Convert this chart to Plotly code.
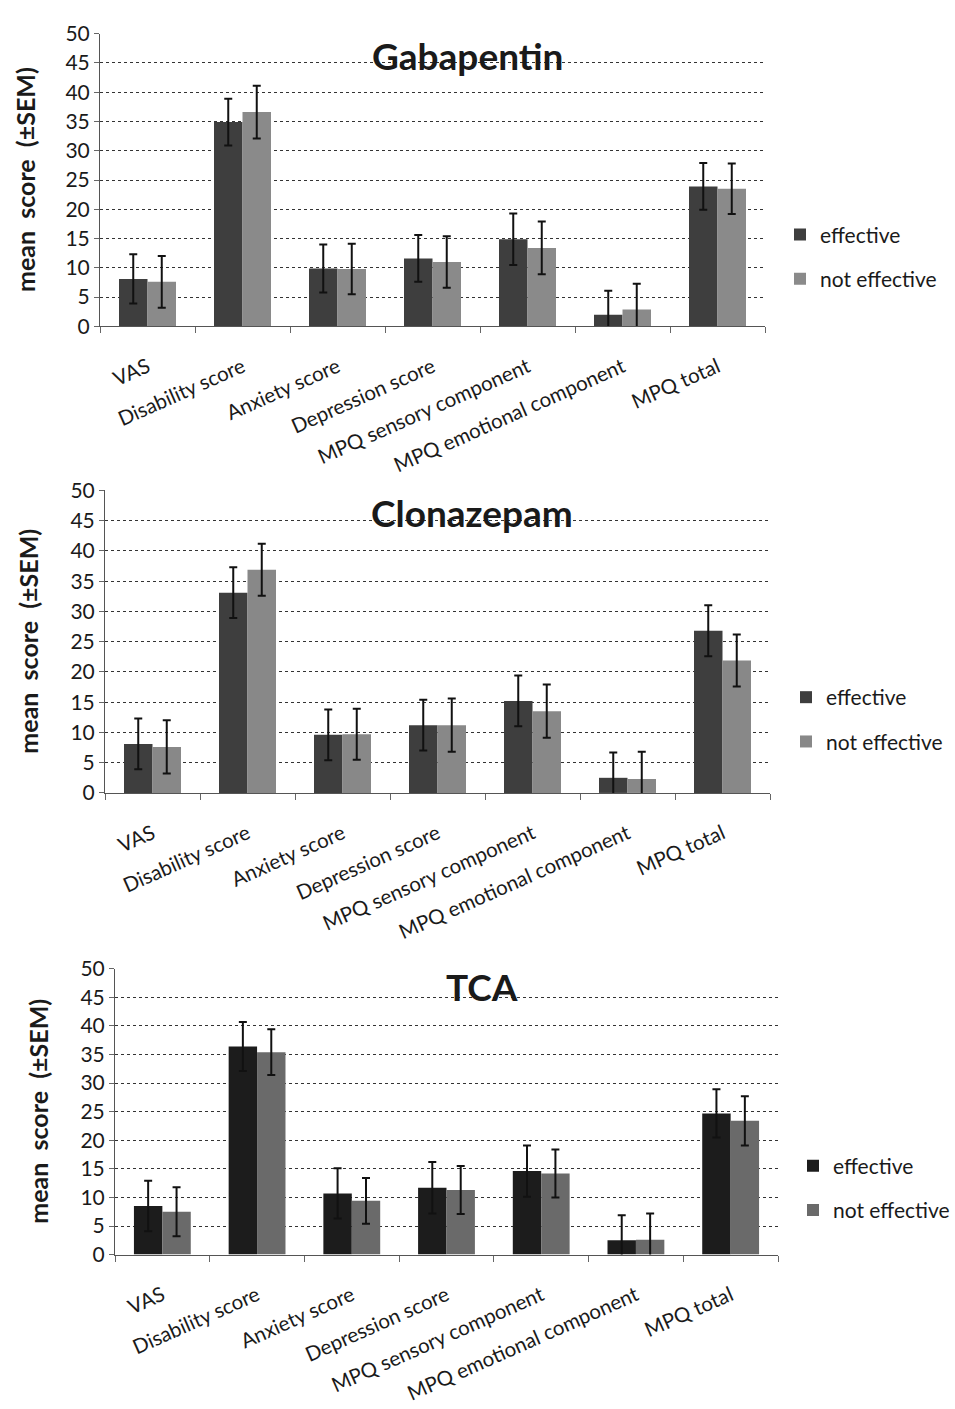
import plotly.graph_objects as go

categories = ["VAS", "Disability score", "Anxiety score", "Depression score",
              "MPQ sensory component", "MPQ emotional component", "MPQ total"]
series_names = ["effective", "not effective"]
panel_titles = ["Gabapentin", "Clonazepam", "TCA"]
y_ticks = [0, 5, 10, 15, 20, 25, 30, 35, 40, 45, 50]

gaba_eff = [8.1, 34.9, 9.9, 11.6, 14.9, 2.0, 23.9]
gaba_eff_sem = [4.2, 4.0, 4.1, 4.0, 4.4, 4.1, 4.0]
gaba_not = [7.6, 36.6, 9.8, 11.0, 13.4, 2.9, 23.5]
gaba_not_sem = [4.4, 4.5, 4.3, 4.4, 4.5, 4.4, 4.3]

clon_eff = [8.1, 33.1, 9.6, 11.2, 15.2, 2.5, 26.8]
clon_eff_sem = [4.2, 4.2, 4.2, 4.2, 4.2, 4.2, 4.2]
clon_not = [7.6, 36.9, 9.7, 11.2, 13.5, 2.3, 21.9]
clon_not_sem = [4.4, 4.3, 4.2, 4.4, 4.4, 4.5, 4.3]

tca_eff = [8.5, 36.4, 10.7, 11.7, 14.6, 2.5, 24.7]
tca_eff_sem = [4.4, 4.3, 4.4, 4.5, 4.5, 4.4, 4.2]
tca_not = [7.5, 35.4, 9.4, 11.3, 14.2, 2.6, 23.4]
tca_not_sem = [4.3, 4.0, 4.0, 4.2, 4.2, 4.6, 4.3]

W, H = 955, 1409
FONT = "Lato"

panels = [
    dict(eff=gaba_eff, eff_sem=gaba_eff_sem, ne=gaba_not, ne_sem=gaba_not_sem,
         x=(100, 765), y=(20, 318), colors=("#3e3e3e", "#8a8a8a"),
         title_xy=(467, 42), legend_xy=(780, 204), ytitle_x=25),
    dict(eff=clon_eff, eff_sem=clon_eff_sem, ne=clon_not, ne_sem=clon_not_sem,
         x=(105, 770), y=(485, 793), colors=("#3e3e3e", "#888888"),
         title_xy=(472, 508), legend_xy=(786, 675), ytitle_x=28),
    dict(eff=tca_eff, eff_sem=tca_eff_sem, ne=tca_not, ne_sem=tca_not_sem,
         x=(115, 778), y=(972, 1263), colors=("#1c1c1c", "#6a6a6a"),
         title_xy=(482, 990), legend_xy=(793, 1152), ytitle_x=38),
]

fig = go.Figure()
layout = dict(width=W, height=H, margin=dict(l=0, r=0, t=0, b=0),
              paper_bgcolor="white", plot_bgcolor="white",
              barmode="group", bargap=0.4, bargroupgap=0.0,
              font=dict(family=FONT, color="#1a1a1a"), annotations=[])

NB = "\u00a0\u00a0"

for i, p in enumerate(panels):
    n = "" if i == 0 else str(i + 1)
    xa, ya = "x" + n, "y" + n
    leg = "legend" + n
    vals = [(p["eff"], p["eff_sem"]), (p["ne"], p["ne_sem"])]
    for j, (v, e) in enumerate(vals):
        fig.add_trace(go.Bar(
            x=categories, y=v, name=series_names[j], xaxis=xa, yaxis=ya,
            legend=leg, legendgroup=f"{i}_{j}",
            marker=dict(color=p["colors"][j], line=dict(width=0)),
            error_y=dict(type="data", array=e, color="#111111",
                         thickness=2, width=4),
        ))
    x0, x1 = p["x"]
    y0, y1 = p["y"]
    layout["xaxis" + n] = dict(
        domain=[x0 / W, x1 / W], anchor=ya,
        tickangle=-24, tickfont=dict(size=20.5, family=FONT, color="#1a1a1a"),
        ticks="outside", tickson="boundaries", ticklen=6, tickcolor="#666",
        showline=True, linecolor="#555", linewidth=1,
        showgrid=False, ticklabelstandoff=20,
    )
    layout["yaxis" + n] = dict(
        domain=[1 - y1 / H, 1 - y0 / H], anchor=xa,
        range=[0, 50], tickvals=y_ticks,
        tickfont=dict(size=21, family=FONT, color="#1a1a1a"),
        ticks="outside", ticklen=5, tickcolor="#666",
        showline=True, linecolor="#555", linewidth=1,
        showgrid=True, gridcolor="#333", griddash="dot", gridwidth=1,
        zeroline=False,
    )
    tx, ty = p["title_xy"]
    layout["annotations"].append(dict(
        text="<b>" + panel_titles[i] + "</b>", x=tx / W, y=1 - ty / H,
        xref="paper", yref="paper", showarrow=False,
        xanchor="center", yanchor="middle",
        font=dict(size=37, family=FONT, color="#1a1a1a")))
    layout["annotations"].append(dict(
        text="<b>mean" + NB + "score" + NB + "(±SEM)</b>",
        x=p["ytitle_x"] / W, y=1 - (y0 + y1) / 2 / H,
        xref="paper", yref="paper", showarrow=False, textangle=-90,
        xanchor="center", yanchor="middle",
        font=dict(size=25, family=FONT, color="#1a1a1a")))
    lx, ly = p["legend_xy"]
    layout[leg] = dict(
        x=lx / W, y=1 - ly / H, xanchor="left", yanchor="top",
        font=dict(size=21, family=FONT, color="#1a1a1a"),
        tracegroupgap=14, bgcolor="rgba(0,0,0,0)", itemwidth=30,
    )

fig.update_layout(**layout)
fig.write_html("out.html")
